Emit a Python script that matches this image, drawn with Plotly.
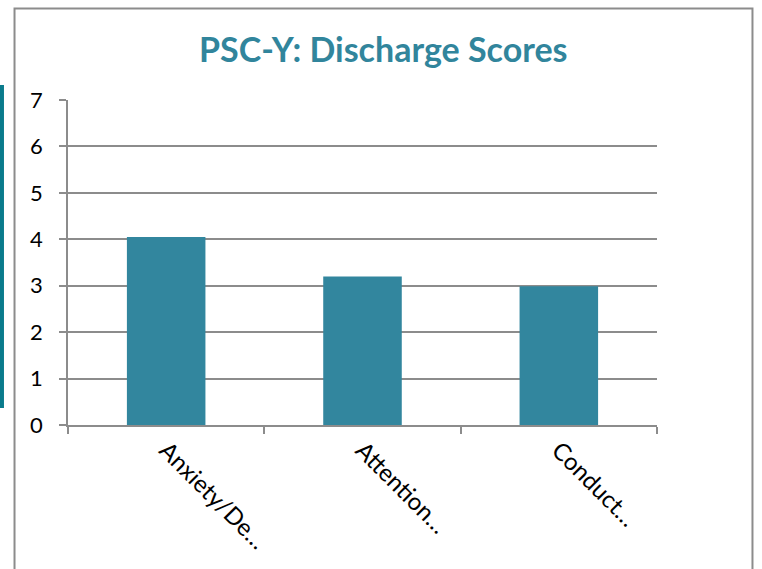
import plotly.graph_objects as go

# datos
categorias = ["Anxiety/De…", "Attention…", "Conduct…"]
puntajes = [4.05, 3.2, 2.99]
y_ticks = [0, 1, 2, 3, 4, 5, 6, 7]

color_barra = "#32869E"
gris = "#8C8C8C"

fig = go.Figure()
fig.add_trace(go.Bar(
    x=categorias,
    y=puntajes,
    marker=dict(color=color_barra, line=dict(width=0)),
    width=0.4,
))

fig.update_layout(
    width=762,
    height=569,
    margin=dict(l=68, r=105, t=100, b=144, autoexpand=False),
    paper_bgcolor="white",
    plot_bgcolor="white",
    showlegend=False,
    font=dict(family="Lato, Open Sans, sans-serif", color="black"),
    title=dict(
        text="<b>PSC-Y: Discharge Scores</b>",
        x=0.503, xanchor="center",
        y=0.912, yanchor="middle",
        font=dict(size=34, color="#31859C", family="Lato, Open Sans, sans-serif"),
    ),
)

fig.update_yaxes(
    range=[0, 7],
    tickvals=y_ticks,
    showgrid=True, gridcolor=gris, gridwidth=1.5,
    showline=True, linecolor=gris, linewidth=1.5,
    ticks="outside", ticklen=7, tickcolor=gris, tickwidth=1.5,
    tickfont=dict(size=22),
    ticklabelstandoff=12,
    zeroline=False,
)
fig.update_xaxes(
    showline=True, linecolor=gris, linewidth=1.5,
    ticks="outside", ticklen=7, tickcolor=gris, tickwidth=1.5,
    tickson="boundaries",
    tickangle=45,
    tickfont=dict(size=24),
    showgrid=False,
)

# marco del gráfico y barra lateral
fig.add_shape(type="rect", xref="paper", yref="paper",
              x0=-0.0908, x1=1.1621, y0=-0.48, y1=1.2815,
              line=dict(color=gris, width=2), fillcolor="rgba(0,0,0,0)", layer="below")
fig.add_shape(type="rect", xref="paper", yref="paper",
              x0=-0.1160, x1=-0.1087, y0=0.0523, y1=1.0462,
              line=dict(width=0), fillcolor="#0A7B8C")

# quitar el margen por defecto del body para que el lienzo empiece en 0,0
fig.write_html(
    "out.html",
    config={"displayModeBar": False},
    post_script="document.body.style.margin='0';",
)
